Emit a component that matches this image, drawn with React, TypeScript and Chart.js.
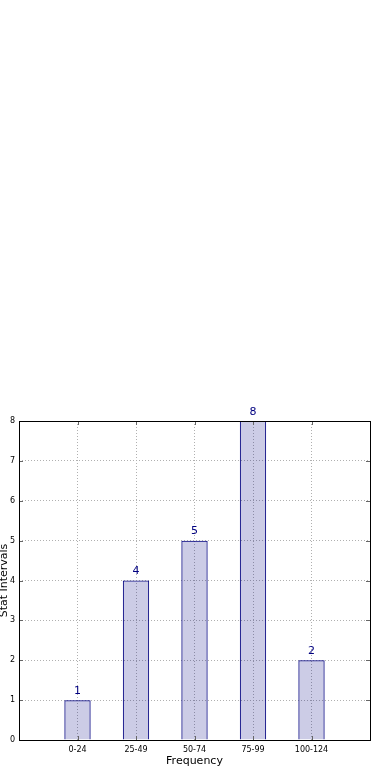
import React, { useEffect, useRef } from 'react';
import { Chart, registerables } from 'chart.js';

Chart.register(...registerables);

const categories = ['0-24', '25-49', '50-74', '75-99', '100-124'];
const frequencies = [1, 4, 5, 8, 2];
const yMin = 0;
const yMax = 8;
const xTitle = 'Frequency';
const yTitle = 'Stat Intervals';

const FONT = "'DejaVu Sans', sans-serif";
const NAVY = '#000080';

export default function App() {
  const ref = useRef<HTMLCanvasElement>(null);

  useEffect(() => {
    if (!ref.current) return;
    const labels = ['', ...categories, ''];
    const data: (number | null)[] = [null, ...frequencies, null];

    const frame = {
      id: 'frame',
      afterDatasetsDraw(chart: any) {
        const { ctx, chartArea } = chart;
        const { left, right, top, bottom } = chartArea;
        ctx.save();
        // inside tick marks
        ctx.strokeStyle = '#666';
        ctx.lineWidth = 1;
        const ys = chart.scales.y;
        const xs = chart.scales.x;
        for (let v = yMin + 1; v < yMax; v++) {
          const py = Math.round(ys.getPixelForValue(v)) + 0.5;
          ctx.beginPath();
          ctx.moveTo(left, py);
          ctx.lineTo(left + 4, py);
          ctx.moveTo(right - 4, py);
          ctx.lineTo(right, py);
          ctx.stroke();
        }
        for (let i = 1; i <= categories.length; i++) {
          const px = Math.round(xs.getPixelForValue(i)) + 0.5;
          ctx.beginPath();
          ctx.moveTo(px, bottom);
          ctx.lineTo(px, bottom - 4);
          ctx.moveTo(px, top);
          ctx.lineTo(px, top + 4);
          ctx.stroke();
        }
        // frame
        ctx.strokeStyle = '#000';
        ctx.lineWidth = 1;
        ctx.strokeRect(Math.round(left) + 0.5, Math.round(top) + 0.5, Math.round(right - left), Math.round(bottom - top));
        // value labels
        const meta = chart.getDatasetMeta(0);
        ctx.fillStyle = NAVY;
        ctx.font = `11px ${FONT}`;
        ctx.textAlign = 'center';
        ctx.textBaseline = 'middle';
        meta.data.forEach((el: any, i: number) => {
          const v = data[i];
          if (v === null || v === undefined) return;
          ctx.fillText(String(v), el.x, el.y - 9);
        });
        ctx.restore();
      },
    };

    const chart = new Chart(ref.current, {
      type: 'bar',
      data: {
        labels,
        datasets: [
          {
            data,
            backgroundColor: 'rgba(0,0,128,0.2)',
            borderColor: NAVY,
            borderWidth: 1,
            barPercentage: 0.45,
            categoryPercentage: 1,
          },
        ],
      },
      options: {
        responsive: false,
        animation: false,
        devicePixelRatio: 1,
        layout: { padding: { top: 421, right: 20, left: 0, bottom: 0 } },
        plugins: {
          legend: { display: false },
          tooltip: { enabled: false },
        },
        scales: {
          x: {
            type: 'category',
            offset: false,
            grid: { color: '#b0b0b0', lineWidth: 1, drawTicks: false, offset: false },
            border: { display: false, dash: [1, 2] },
            ticks: {
              padding: 5,
              font: { family: FONT, size: 8 },
              color: '#000',
              maxRotation: 0,
              autoSkip: false,
            },
            title: {
              display: true,
              text: xTitle,
              color: '#000',
              font: { family: FONT, size: 11 },
              padding: { top: 0, bottom: 12 },
            },
            afterFit: (s: any) => {
              s.height = 40;
            },
          },
          y: {
            min: yMin,
            max: yMax,
            grid: { color: '#b0b0b0', lineWidth: 1, drawTicks: false },
            border: { display: false, dash: [1, 2] },
            ticks: {
              stepSize: 1,
              padding: 4,
              font: { family: FONT, size: 8 },
              color: '#000',
            },
            title: {
              display: true,
              text: yTitle,
              color: '#000',
              font: { family: FONT, size: 11 },
              padding: { top: -2, bottom: 0 },
            },
            afterFit: (s: any) => {
              s.width = 19;
            },
          },
        },
      },
      plugins: [frame],
    });
    return () => chart.destroy();
  }, []);

  return (
    <div style={{ position: 'absolute', left: 0, top: 0, width: 390, height: 780, background: '#fff' }}>
      <canvas ref={ref} width={390} height={780} style={{ display: 'block', width: 390, height: 780 }} />
    </div>
  );
}
